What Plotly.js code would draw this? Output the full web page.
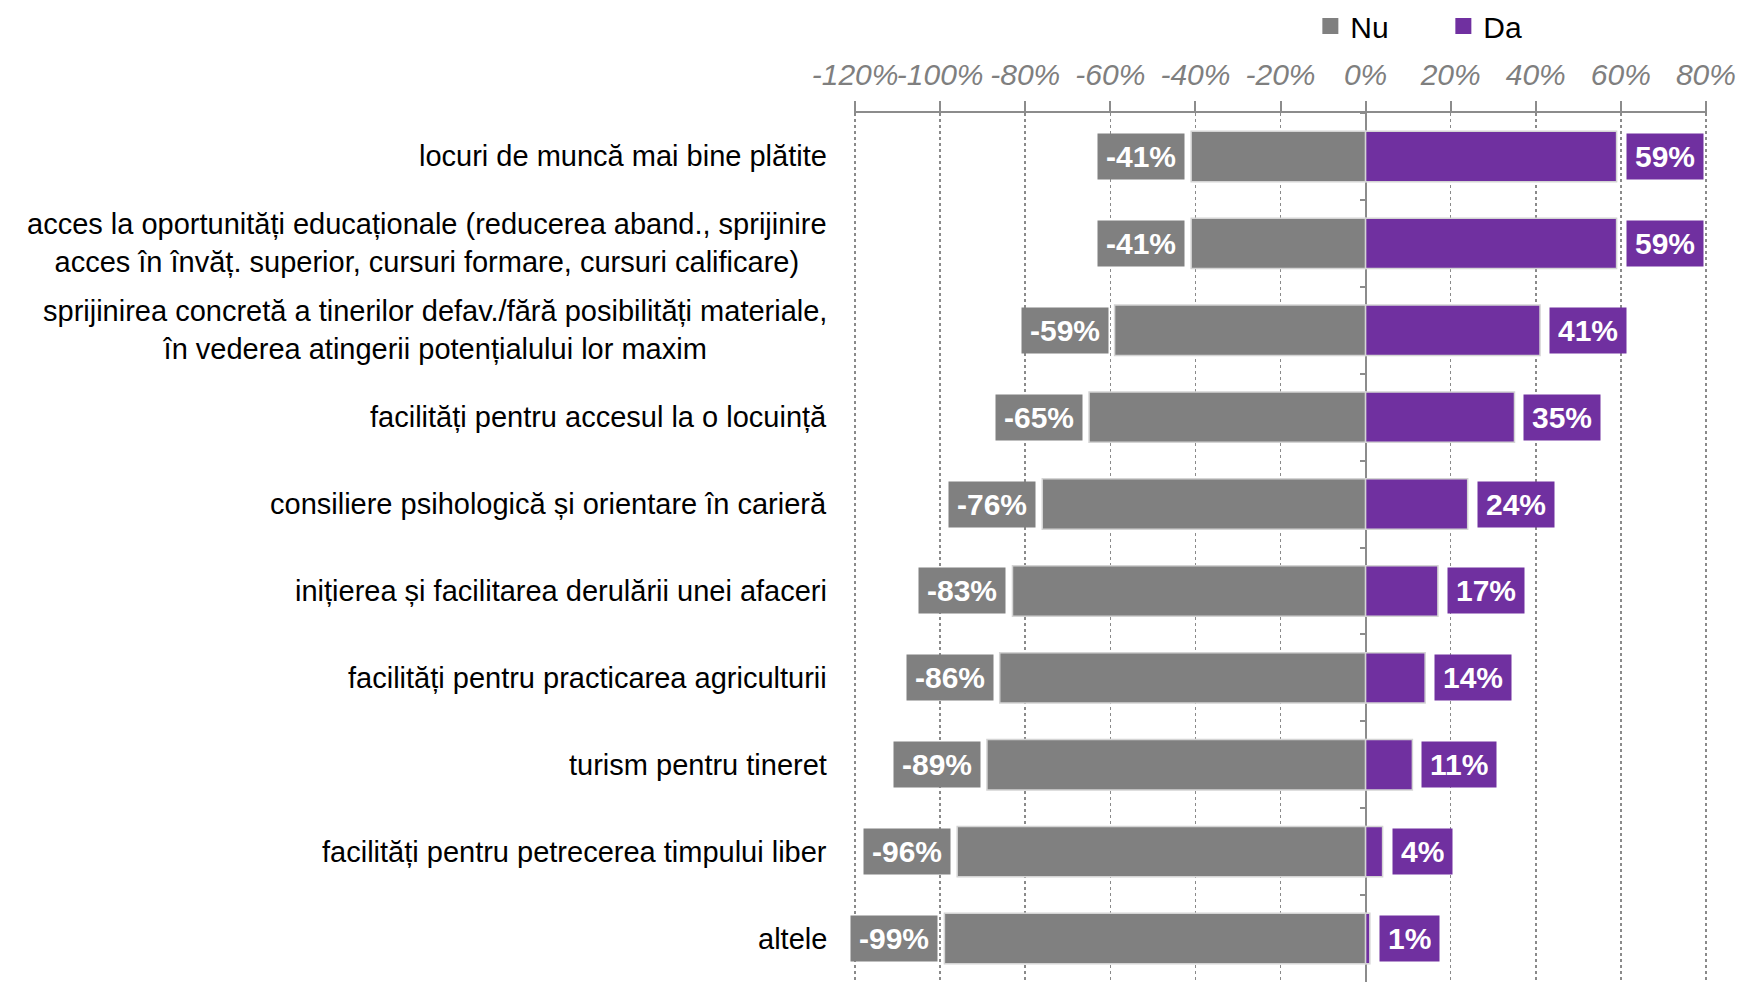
<!DOCTYPE html>
<html>
<head>
<meta charset="utf-8">
<script src="https://cdn.plot.ly/plotly-3.0.1.min.js"></script>
<style>html,body{margin:0;padding:0;background:#fff;}#chart{width:1740px;height:982px;}</style>
</head>
<body>
<div id="chart"></div>
<script>
// ---- data ----
const categories = [
  "locuri de muncă mai bine plătite",
  "acces la oportunități educaționale (reducerea aband., sprijinire<br>acces în învăț. superior, cursuri formare, cursuri calificare)",
  "sprijinirea concretă a tinerilor defav./fără posibilități materiale,<br>în vederea atingerii potențialului lor maxim",
  "facilități pentru accesul la o locuință",
  "consiliere psihologică și orientare în carieră",
  "inițierea și facilitarea derulării unei afaceri",
  "facilități pentru practicarea agriculturii",
  "turism pentru tineret",
  "facilități pentru petrecerea timpului liber",
  "altele"
];
const nuValues = [-41, -41, -59, -65, -76, -83, -86, -89, -96, -99];
const daValues = [59, 59, 41, 35, 24, 17, 14, 11, 4, 1];
const tickValues = [-120, -100, -80, -60, -40, -20, 0, 20, 40, 60, 80];
const tickLabels = ["-120%", "-100%", "-80%", "-60%", "-40%", "-20%", "0%", "20%", "40%", "60%", "80%"];
const seriesNames = ["Nu", "Da"];

// ---- style ----
const GRAY = "#808080";
const PURPLE = "#7030A0";
const AXIS = "#8c8c8c";
const FONT = "Liberation Sans, Arial, sans-serif";
const X_MIN = -120.25, X_MAX = 80.25;

const traces = [
  {
    type: "bar", orientation: "h", name: seriesNames[0], showlegend: false,
    x: nuValues, y: categories,
    marker: {color: GRAY, line: {color: "#d4d4d4", width: 1.5}},
    hoverinfo: "x+y"
  },
  {
    type: "bar", orientation: "h", name: seriesNames[1], showlegend: false,
    x: daValues, y: categories,
    marker: {color: PURPLE, line: {color: "#d4d4d4", width: 1.5}},
    hoverinfo: "x+y"
  },
  // legend keys (square swatches)
  {
    type: "scatter", mode: "markers", name: seriesNames[0], x: [null], y: [null],
    marker: {symbol: "square", size: 17, color: GRAY}, hoverinfo: "skip"
  },
  {
    type: "scatter", mode: "markers", name: seriesNames[1], x: [null], y: [null],
    marker: {symbol: "square", size: 17, color: PURPLE}, hoverinfo: "skip"
  },
  // carrier for the boundary ticks on the zero axis
  {
    type: "scatter", mode: "markers", x: categories.map(() => 0), y: categories,
    yaxis: "y2", marker: {opacity: 0}, showlegend: false, hoverinfo: "skip"
  }
];

const annotations = [];
categories.forEach((c, i) => {
  annotations.push({
    xref: "paper", yref: "y", x: 0, y: c, xanchor: "right", yanchor: "middle",
    xshift: -25, text: c, showarrow: false, align: "center",
    font: {family: FONT, size: 29, color: "#000"}
  });
  annotations.push({
    xref: "x", yref: "y", x: nuValues[i], y: c, xanchor: "right", yanchor: "middle",
    xshift: -6, text: nuValues[i] + "%", showarrow: false,
    bgcolor: GRAY, borderpad: 8, height: 29,
    font: {family: FONT, size: 30, color: "#fff", weight: "bold"}
  });
  annotations.push({
    xref: "x", yref: "y", x: daValues[i], y: c, xanchor: "left", yanchor: "middle",
    xshift: 9, text: daValues[i] + "%", showarrow: false,
    bgcolor: PURPLE, borderpad: 8, height: 29,
    font: {family: FONT, size: 30, color: "#fff", weight: "bold"}
  });
});

const layout = {
  width: 1740, height: 982,
  margin: {l: 854, r: 33, t: 110, b: 0, pad: 0},
  paper_bgcolor: "#fff", plot_bgcolor: "#fff",
  barmode: "relative", bargap: 0.42,
  font: {family: FONT, size: 29, color: "#000"},
  showlegend: true,
  legend: {
    orientation: "h", x: 0.535, xanchor: "left", y: 1.1, yanchor: "middle",
    font: {family: FONT, size: 30, color: "#000"},
    entrywidth: 88, entrywidthmode: "pixels", traceorder: "normal",
    itemclick: false, itemdoubleclick: false
  },
  xaxis: {
    side: "top", range: [X_MIN, X_MAX], tickmode: "array",
    tickvals: tickValues, ticktext: tickLabels, tickangle: 0,
    tickfont: {family: FONT, size: 30, color: "#7f7f7f", style: "italic"},
    showline: true, linecolor: AXIS, linewidth: 2,
    ticks: "outside", ticklen: 10, tickcolor: AXIS, tickwidth: 2,
    showgrid: true, gridcolor: "#8a8a8a", gridwidth: 1.5, griddash: "dot",
    zeroline: true, zerolinecolor: AXIS, zerolinewidth: 2,
    ticklabelstandoff: 4, fixedrange: true
  },
  yaxis: {
    type: "category", categoryorder: "array", categoryarray: categories,
    range: [categories.length - 0.5, -0.5],
    showticklabels: false, ticks: "", showgrid: false, zeroline: false, showline: false,
    fixedrange: true
  },
  yaxis2: {
    type: "category", categoryorder: "array", categoryarray: categories,
    range: [categories.length - 0.5, -0.5],
    overlaying: "y", anchor: "free", side: "left",
    position: (0 - X_MIN) / (X_MAX - X_MIN),
    showticklabels: false, ticks: "outside", tickson: "boundaries",
    ticklen: 6, tickwidth: 2, tickcolor: AXIS,
    showgrid: false, zeroline: false, showline: false, fixedrange: true
  },
  annotations: annotations
};

Plotly.newPlot("chart", traces, layout, {displayModeBar: false, staticPlot: true});
</script>
</body>
</html>
